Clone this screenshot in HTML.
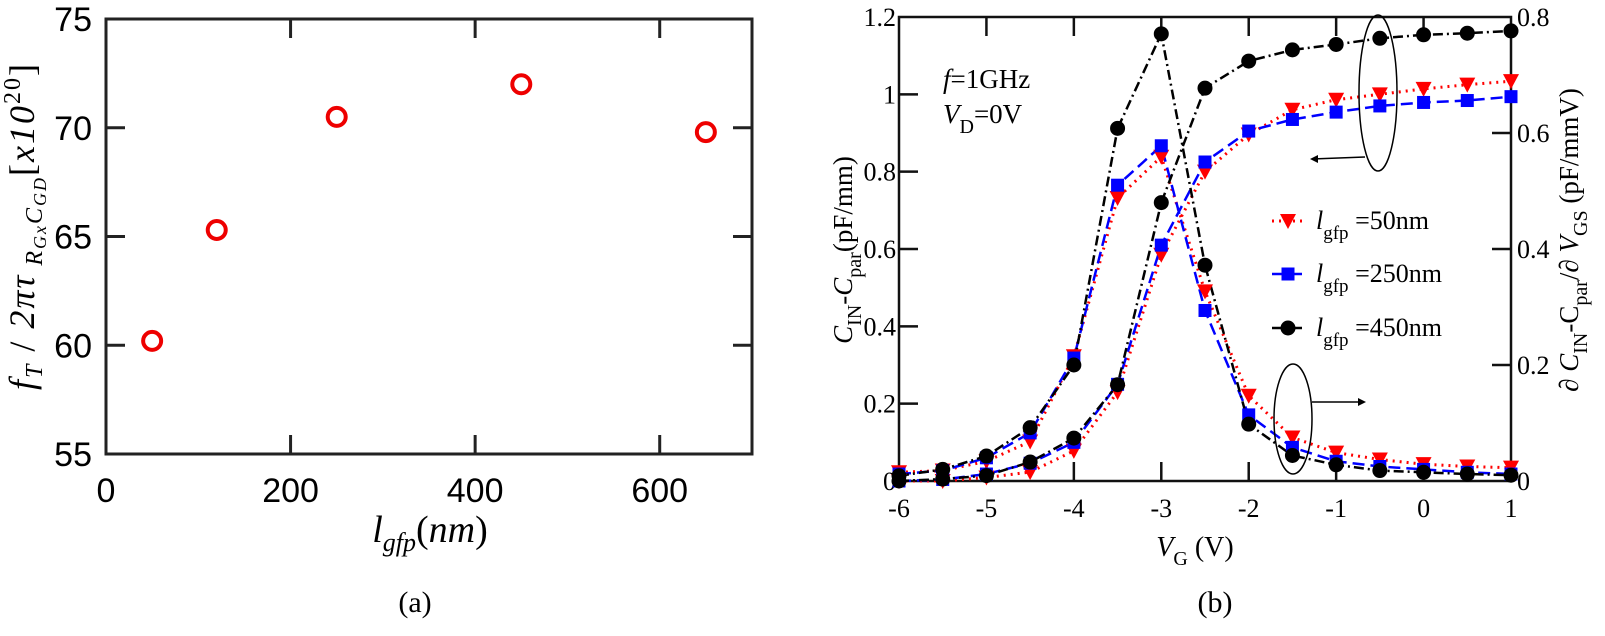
<!DOCTYPE html>
<html><head><meta charset="utf-8"><style>
html,body{margin:0;padding:0;background:#fff;}
svg{display:block;}
.sans{font-family:"Liberation Sans","DejaVu Sans",sans-serif;}
.serif{font-family:"Liberation Serif",serif;}
</style></head><body>
<svg id="fig" width="1605" height="636" viewBox="0 0 1605 636" xmlns="http://www.w3.org/2000/svg">
<g id="chartA"></g>
<g id="chartB"></g>
<text x="415" y="612" class="serif" font-size="30" text-anchor="middle">(a)</text>
<text x="1215" y="612" class="serif" font-size="30" text-anchor="middle">(b)</text>
</svg>
<script>
// ---------- Chart (a) data ----------
const aLengths = [50, 120, 250, 450, 650];
const aValues = [60.2, 65.3, 70.5, 72.0, 69.8];
const aXTicks = [0, 200, 400, 600];
const aYTicks = [55, 60, 65, 70, 75];

// ---------- Chart (b) data ----------
const bVoltages = [-6,-5.5,-5,-4.5,-4,-3.5,-3,-2.5,-2,-1.5,-1,-0.5,0,0.5,1];
const bCap50 = [0,0,0.009,0.023,0.078,0.23,0.585,0.80,0.896,0.96,0.986,1.0,1.014,1.025,1.034];
const bCap250 = [0,0.004,0.018,0.046,0.10,0.25,0.61,0.825,0.905,0.935,0.954,0.97,0.979,0.984,0.994];
const bCap450 = [0,0.005,0.014,0.049,0.111,0.249,0.72,1.016,1.086,1.115,1.129,1.145,1.154,1.158,1.164];
const bDer50 = [0.015,0.018,0.034,0.068,0.215,0.488,0.559,0.327,0.147,0.075,0.049,0.037,0.029,0.025,0.023];
const bDer250 = [0.012,0.018,0.04,0.083,0.212,0.51,0.578,0.294,0.114,0.058,0.034,0.025,0.02,0.015,0.012];
const bDer450 = [0.009,0.020,0.043,0.092,0.200,0.608,0.771,0.372,0.098,0.044,0.028,0.018,0.015,0.012,0.010];
const bXTicks = [-6,-5,-4,-3,-2,-1,0,1];
const bYTicks = [0,0.2,0.4,0.6,0.8,1,1.2];
const bY2Ticks = [0,0.2,0.4,0.6,0.8];
const bLegend = ["=50nm","=250nm","=450nm"];

const NS = "http://www.w3.org/2000/svg";
function mk(tag, attrs, parent){const e=document.createElementNS(NS,tag);for(const k in attrs)e.setAttribute(k,attrs[k]);parent.appendChild(e);return e;}

// ---------- Chart (a) ----------
(function(){
const g=document.getElementById('chartA');
const L=106,R=752,T=19,B=454;
const xs=v=>L+(v-0)/(700-0)*(R-L);
const ys=v=>B-(v-55)/(75-55)*(B-T);
const frame=mk('rect',{x:L,y:T,width:R-L,height:B-T,fill:'none',stroke:'#222','stroke-width':3},g);


aXTicks.forEach(t=>{
  const x=xs(t);
  if(t>0){
    const a=mk('line',{x1:x,y1:B,x2:x,y2:B-19,stroke:'#222','stroke-width':3},g);
    
    
    const b=mk('line',{x1:x,y1:T,x2:x,y2:T+19,stroke:'#222','stroke-width':3},g);
    
    
  }
  const tx=mk('text',{x:x,y:502,'font-size':34,'text-anchor':'middle',class:'sans'},g);
  tx.textContent=t;
  
  
});
aYTicks.forEach(t=>{
  const y=ys(t);
  if(t>55&&t<75){
    const a=mk('line',{x1:L,y1:y,x2:L+19,y2:y,stroke:'#222','stroke-width':3},g);
    
    
    const b=mk('line',{x1:R,y1:y,x2:R-19,y2:y,stroke:'#222','stroke-width':3},g);
    
    
  }
  const tx=mk('text',{x:92,y:y+12,'font-size':34,'text-anchor':'end',class:'sans'},g);
  tx.textContent=t;
  
  
});
aLengths.forEach((l,i)=>{
  const c=mk('circle',{cx:xs(l),cy:ys(aValues[i]),r:9,fill:'none',stroke:'#e00','stroke-width':4},g);
  
  
});
const xt=mk('text',{x:430,y:542,'font-size':38,'text-anchor':'middle',class:'serif','font-style':'italic'},g);
xt.innerHTML='l<tspan font-size="26" dy="9">gfp</tspan><tspan dy="-9" font-style="normal">(</tspan>nm<tspan font-style="normal">)</tspan>';


const yt=mk('text',{x:0,y:0,'font-size':36,'text-anchor':'middle',class:'serif','font-style':'italic','letter-spacing':'2',transform:'translate(34,226) rotate(-90)'},g);
yt.innerHTML='f<tspan font-size="24" dy="8">T</tspan><tspan dy="-8" font-style="normal"> / </tspan>2πτ<tspan font-size="24" dy="8"> R</tspan><tspan font-size="18" dy="4">Gx</tspan><tspan font-size="24" dy="-4">C</tspan><tspan font-size="18" dy="4">GD</tspan><tspan dy="-12" font-style="normal">[</tspan>x10<tspan font-size="24" dy="-14" font-style="normal">20</tspan><tspan dy="14" font-style="normal">]</tspan>';


})();

// ---------- Chart (b) ----------
(function(){
const g=document.getElementById('chartB');
const L=899,R=1511,T=17,B=481;
const xs=v=>L+(v+6)/7*(R-L);
const ys=v=>B-v/1.2*(B-T);
const ys2=v=>B-v/0.8*(B-T);
const frame=mk('rect',{x:L,y:T,width:R-L,height:B-T,fill:'none',stroke:'#111','stroke-width':2.5},g);


bXTicks.forEach(t=>{
  const x=xs(t);
  if(t>-6&&t<1){
    const a=mk('line',{x1:x,y1:T,x2:x,y2:T+19,stroke:'#111','stroke-width':2.5},g);
    
    
    const b=mk('line',{x1:x,y1:B,x2:x,y2:B-19,stroke:'#111','stroke-width':2.5},g);
    
    
  }
  const tx=mk('text',{x:x,y:517,'font-size':26,'text-anchor':'middle',class:'serif'},g);
  tx.textContent=t;
  
  
});
bYTicks.forEach(t=>{
  const y=ys(t);
  if(t>0&&t<1.2){
    const a=mk('line',{x1:L,y1:y,x2:L+19,y2:y,stroke:'#111','stroke-width':2.5},g);
    
    
  }
  const tx=mk('text',{x:L-3,y:y+9,'font-size':26,'text-anchor':'end',class:'serif'},g);
  tx.textContent=t;
  
  
});
bY2Ticks.forEach(t=>{
  const y=ys2(t);
  if(t>0&&t<0.8){
    const a=mk('line',{x1:R,y1:y,x2:R-19,y2:y,stroke:'#111','stroke-width':2.5},g);
    
    
  }
  const tx=mk('text',{x:R+6,y:y+9,'font-size':26,'text-anchor':'start',class:'serif'},g);
  tx.textContent=t;
  
  
});
function marker(kind,x,y,parent){
  let m;
  if(kind==='tri') m=mk('path',{d:`M${x-8},${y-7} L${x+8},${y-7} L${x},${y+8} Z`,fill:'#f00'},parent);
  else if(kind==='sq') m=mk('rect',{x:x-6.5,y:y-6.5,width:13,height:13,fill:'#00f'},parent);
  else m=mk('circle',{cx:x,cy:y,r:7.5,fill:'#000'},parent);
  return m;
}
const series=[
 {cap:bCap50,der:bDer50,color:'#f00',dash:'2,5',kind:'tri',w:3,name:'50nm'},
 {cap:bCap250,der:bDer250,color:'#00f',dash:'12,6',kind:'sq',w:2.5,name:'250nm'},
 {cap:bCap450,der:bDer450,color:'#000',dash:'10,4,2,4',kind:'circ',w:2.5,name:'450nm'}
];
series.forEach(s=>{
  [[s.cap,ys,'cap'],[s.der,ys2,'der']].forEach(([arr,yf,tag])=>{
    const d=bVoltages.map((v,i)=>(i?'L':'M')+xs(v).toFixed(1)+','+yf(arr[i]).toFixed(1)).join(' ');
    const p=mk('path',{d:d,fill:'none',stroke:s.color,'stroke-width':s.w,'stroke-dasharray':s.dash},g);
    
    
  });
});
series.forEach(s=>{
  [[s.cap,ys,'cap'],[s.der,ys2,'der']].forEach(([arr,yf,tag])=>{
    bVoltages.forEach((v,i)=>{
      const m=marker(s.kind,xs(v),yf(arr[i]),g);
      
      
    });
  });
});
// legend
const lg=mk('g',{},g);


const legY=[221,274,328];
series.forEach((s,i)=>{
  const y=legY[i];
  const ln=mk('line',{x1:1272,y1:y,x2:1305,y2:y,stroke:s.color,'stroke-width':s.w,'stroke-dasharray':s.dash},lg);
  
  
  const m=marker(s.kind,1288,y,lg);
  
  
  const t=mk('text',{x:1316,y:y+8,'font-size':26,class:'serif'},lg);
  t.innerHTML='<tspan font-style="italic">l</tspan><tspan font-size="19" dy="10">gfp</tspan><tspan dy="-10"> '+bLegend[i]+'</tspan>';
  
  
});
})();
</script>
<script>
(function(){
const svg=document.getElementById('fig');
const add=(html)=>{svg.insertAdjacentHTML('beforeend',html);};
add('<text x="943" y="88" font-size="27" font-family="Liberation Serif, serif"><tspan font-style="italic">f</tspan>=1GHz</text>');
add('<text x="943" y="123" font-size="27" font-family="Liberation Serif, serif"><tspan font-style="italic">V</tspan><tspan font-size="20" dy="10">D</tspan><tspan dy="-10">=0V</tspan></text>');
add('<ellipse cx="1378" cy="93" rx="19" ry="78" fill="none" stroke="#000" stroke-width="1.5"/>');
add('<line x1="1365" y1="157" x2="1312" y2="159" stroke="#000" stroke-width="1.5"/><path d="M1310,159 l8,-4 l0,8 z" fill="#000"/>');
add('<ellipse cx="1293" cy="419" rx="19" ry="55" fill="none" stroke="#000" stroke-width="1.5"/>');
add('<line x1="1312" y1="402" x2="1363" y2="402" stroke="#000" stroke-width="1.5"/><path d="M1366,402 l-8,-4 l0,8 z" fill="#000"/>');
add('<text x="1195" y="556" font-size="28" font-family="Liberation Serif, serif" text-anchor="middle"><tspan font-style="italic">V</tspan><tspan font-size="20" dy="9">G</tspan><tspan dy="-9"> (V)</tspan></text>');
add('<text transform="translate(852,250) rotate(-90)" font-size="27" font-family="Liberation Serif, serif" text-anchor="middle"><tspan font-style="italic">C</tspan><tspan font-size="20" dy="9">IN</tspan><tspan dy="-9">-</tspan><tspan font-style="italic">C</tspan><tspan font-size="20" dy="9">par</tspan><tspan dy="-9">(pF/mm)</tspan></text>');
add('<text transform="translate(1578,240) rotate(-90)" font-size="27" font-family="Liberation Serif, serif" text-anchor="middle"><tspan font-style="italic">∂ C</tspan><tspan font-size="20" dy="9">IN</tspan><tspan dy="-9">-C</tspan><tspan font-size="20" dy="9">par</tspan><tspan dy="-9">/</tspan><tspan font-style="italic">∂ V</tspan><tspan font-size="20" dy="9">GS</tspan><tspan dy="-9"> (pF/mmV)</tspan></text>');
})();
</script>
</body></html>
